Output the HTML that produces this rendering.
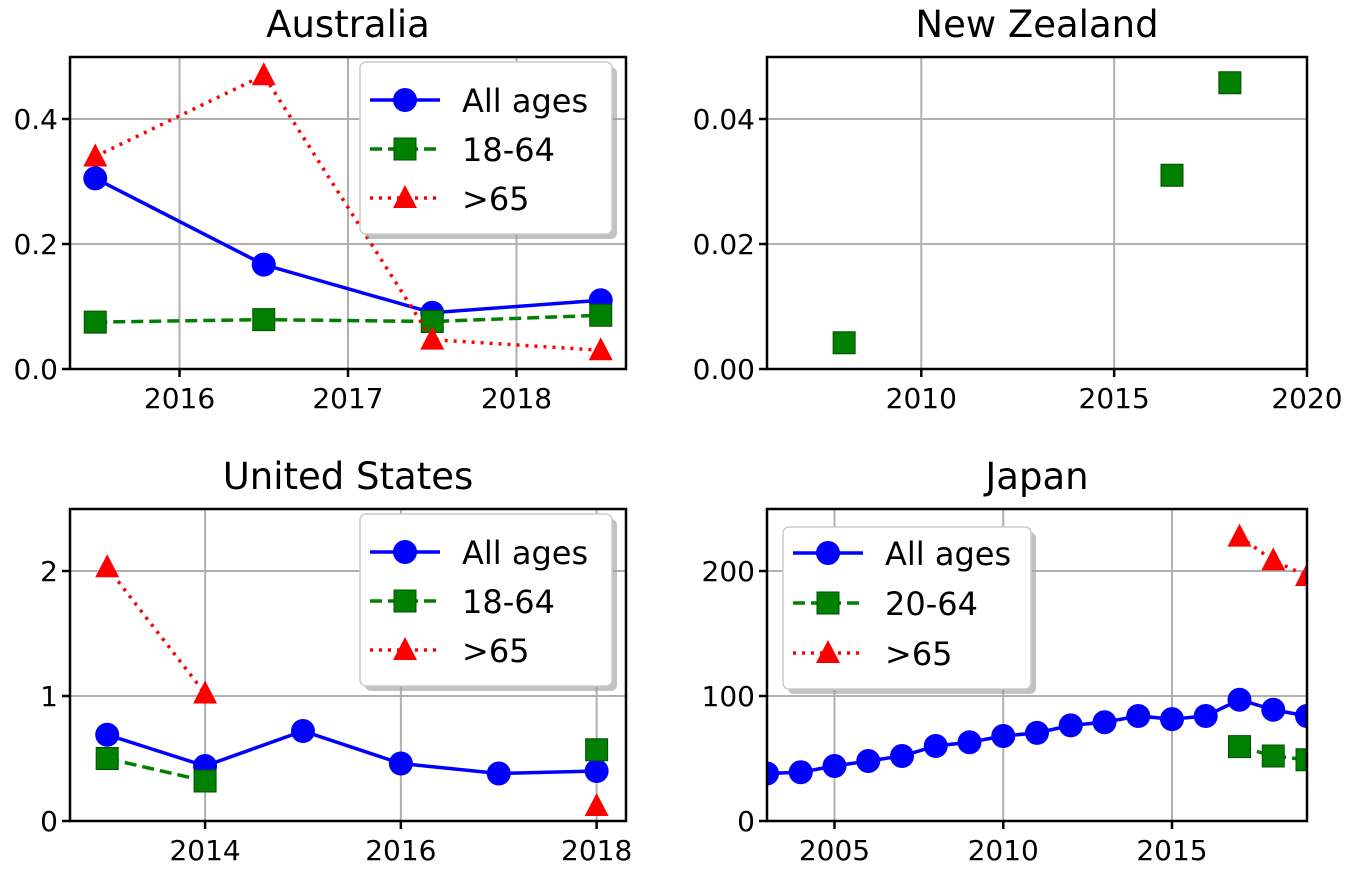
<!DOCTYPE html>
<html><head><meta charset="utf-8"><style>
body{margin:0;background:#fff;}
svg{display:block;font-family:"DejaVu Sans","Liberation Sans",sans-serif;}
</style></head><body>
<svg id="chart" width="1350" height="874" viewBox="0 0 1350 874"></svg>
<script>
const auYears=[2015.5,2016.5,2017.5,2018.5];
const auAll=[0.305,0.167,0.09,0.11];
const au1864=[0.075,0.079,0.076,0.086];
const au65=[0.34,0.47,0.047,0.03];
const auXTicks=[2016,2017,2018];
const auYTicks=[0,0.2,0.4];
const auYLabels=["0.0","0.2","0.4"];

const nzYears=[2008,2016.5,2018];
const nz1864=[0.0042,0.031,0.0458];
const nzXTicks=[2010,2015,2020];
const nzYTicks=[0,0.02,0.04];
const nzYLabels=["0.00","0.02","0.04"];

const usYears=[2013,2014,2015,2016,2017,2018];
const usAll=[0.69,0.44,0.72,0.46,0.38,0.40];
const us1864=[0.5,0.32,null,null,null,0.57];
const us65=[2.03,1.02,null,null,null,0.12];
const usXTicks=[2014,2016,2018];
const usYTicks=[0,1,2];
const usYLabels=["0","1","2"];

const jpYears=[2003,2004,2005,2006,2007,2008,2009,2010,2011,2012,2013,2014,2015,2016,2017,2018,2019];
const jpAll=[38,39,44,48,52,60,63,68,70.5,76.5,79,84,81.5,84,97,89,84];
const jpSubYears=[2017,2018,2019];
const jp2064=[59.5,52,49];
const jp65=[227.5,208.5,196];
const jpXTicks=[2005,2010,2015];
const jpYTicks=[0,100,200];
const jpYLabels=["0","100","200"];

const NS="http://www.w3.org/2000/svg";
const svg=document.getElementById('chart');
function mk(tag,attrs,parent){const e=document.createElementNS(NS,tag);for(const k in attrs)e.setAttribute(k,attrs[k]);(parent||svg).appendChild(e);return e;}

function panel(p){
  const g=mk('g',{});
  
  
  const sx=v=>p.x0+(v-p.xmin)/(p.xmax-p.xmin)*(p.x1-p.x0);
  const sy=v=>p.y1-(v-p.ymin)/(p.ymax-p.ymin)*(p.y1-p.y0);
  const cid='clip-'+p.name;
  const cp=mk('clipPath',{id:cid},g);
  mk('rect',{x:p.x0,y:p.y0,width:p.x1-p.x0,height:p.y1-p.y0},cp);
  p.xticks.forEach(t=>{const x=sx(t);
    const gl=mk('line',{x1:x,x2:x,y1:p.y0,y2:p.y1,stroke:'#b0b0b0','stroke-width':2},g);
    
    
    mk('line',{x1:x,x2:x,y1:p.y1,y2:p.y1+8,stroke:'#000','stroke-width':2.5},g);
    const tx=mk('text',{x:x,y:p.y1+39,'font-size':28,'text-anchor':'middle',fill:'#000'},g);
    tx.textContent=String(t);
    
    
  });
  p.yticks.forEach((t,i)=>{const y=sy(t);
    const gl=mk('line',{x1:p.x0,x2:p.x1,y1:y,y2:y,stroke:'#b0b0b0','stroke-width':2},g);
    
    
    mk('line',{x1:p.x0-8,x2:p.x0,y1:y,y2:y,stroke:'#000','stroke-width':2.5},g);
    const tx=mk('text',{x:p.x0-12,y:y+10,'font-size':28,'text-anchor':'end',fill:'#000'},g);
    tx.textContent=p.ylabels[i];
    
    
  });
  const title=mk('text',{x:(p.x0+p.x1)/2,y:p.y0-20,'font-size':37,'text-anchor':'middle',fill:'#000'},g);
  title.textContent=p.title;
  
  
  const dg=mk('g',{'clip-path':'url(#'+cid+')'},g);
  p.series.forEach(s=>{
    const sg=mk('g',{},dg);
    
    
    if(s.line){
      let seg=[];
      const flush=()=>{if(seg.length>1)mk('polyline',{points:seg.join(' '),fill:'none',stroke:s.color,'stroke-width':3.5,'stroke-dasharray':s.dash||'none'},sg);seg=[];};
      s.xs.forEach((x,i)=>{const v=s.ys[i];if(v==null){flush();}else seg.push(sx(x)+','+sy(v));});
      flush();
    }
    s.xs.forEach((x,i)=>{if(s.ys[i]!=null)drawMarker(sg,s.marker,sx(x),sy(s.ys[i]),s.color,s.key);});
  });
  mk('rect',{x:p.x0,y:p.y0,width:p.x1-p.x0,height:p.y1-p.y0,fill:'none',stroke:'#000','stroke-width':2.5},g);
  if(p.legend){
    const L=p.legend;
    const lg=mk('g',{},g);
    
    
    mk('rect',{x:L.x+5,y:L.y+5,width:L.w,height:L.h,rx:6,fill:'#999',opacity:0.6},lg);
    mk('rect',{x:L.x,y:L.y,width:L.w,height:L.h,rx:6,fill:'#fff',stroke:'#ccc','stroke-width':1.5},lg);
    p.series.forEach((s,i)=>{
      const y=L.y+L.top+i*L.gap;
      const eg=mk('g',{},lg);
      
      
      mk('line',{x1:L.x+10,x2:L.x+80,y1:y,y2:y,stroke:s.color,'stroke-width':3.5,'stroke-dasharray':s.dash||'none'},eg);
      drawMarker(eg,s.marker,L.x+45,y,s.color,s.key);
      const t=mk('text',{x:L.x+102,y:y+12,'font-size':32,fill:'#000'},eg);
      t.textContent=s.label;
    });
  }
}
function drawMarker(parent,m,x,y,c,key){
  let e;
  if(m==='o') e=mk('circle',{cx:x,cy:y,r:12,fill:c},parent);
  else if(m==='s') e=mk('rect',{x:x-11,y:y-11,width:22,height:22,fill:c,stroke:'#005000','stroke-width':1},parent);
  else e=mk('polygon',{points:`${x},${y-13} ${x+12},${y+10} ${x-12},${y+10}`,fill:c},parent);
  
  
}
const BLUE='#0000ff',GREEN='#008000',RED='#ff0000';
panel({name:'australia-panel',title:'Australia',x0:70,x1:626,y0:57,y1:369,xmin:2015.35,xmax:2018.65,ymin:0,ymax:0.4992,
  xticks:auXTicks,yticks:auYTicks,ylabels:auYLabels,legend:{x:360,y:62,w:252,h:172,top:38,gap:49},
  series:[{key:'all-ages',label:'All ages',xs:auYears,ys:auAll,color:BLUE,marker:'o',line:true},
          {key:'18-64',label:'18-64',xs:auYears,ys:au1864,color:GREEN,marker:'s',line:true,dash:'12,6'},
          {key:'over-65',label:'>65',xs:auYears,ys:au65,color:RED,marker:'^',line:true,dash:'3,6'}]});
panel({name:'new-zealand-panel',title:'New Zealand',x0:767,x1:1307,y0:57,y1:369,xmin:2006,xmax:2020,ymin:0,ymax:0.04992,
  xticks:nzXTicks,yticks:nzYTicks,ylabels:nzYLabels,
  series:[{key:'18-64',label:'18-64',xs:nzYears,ys:nz1864,color:GREEN,marker:'s',line:false}]});
panel({name:'united-states-panel',title:'United States',x0:70,x1:626,y0:509,y1:821,xmin:2012.62,xmax:2018.3,ymin:0,ymax:2.496,
  xticks:usXTicks,yticks:usYTicks,ylabels:usYLabels,legend:{x:360,y:514,w:252,h:172,top:38,gap:49},
  series:[{key:'all-ages',label:'All ages',xs:usYears,ys:usAll,color:BLUE,marker:'o',line:true},
          {key:'18-64',label:'18-64',xs:usYears,ys:us1864,color:GREEN,marker:'s',line:true,dash:'12,6'},
          {key:'over-65',label:'>65',xs:usYears,ys:us65,color:RED,marker:'^',line:true,dash:'3,6'}]});
panel({name:'japan-panel',title:'Japan',x0:767,x1:1307,y0:509,y1:821,xmin:2003,xmax:2019,ymin:0,ymax:249.6,
  xticks:jpXTicks,yticks:jpYTicks,ylabels:jpYLabels,legend:{x:783,y:527,w:248,h:162,top:26,gap:50},
  series:[{key:'all-ages',label:'All ages',xs:jpYears,ys:jpAll,color:BLUE,marker:'o',line:true},
          {key:'20-64',label:'20-64',xs:jpSubYears,ys:jp2064,color:GREEN,marker:'s',line:true,dash:'12,6'},
          {key:'over-65',label:'>65',xs:jpSubYears,ys:jp65,color:RED,marker:'^',line:true,dash:'3,6'}]});
</script>
</body></html>
